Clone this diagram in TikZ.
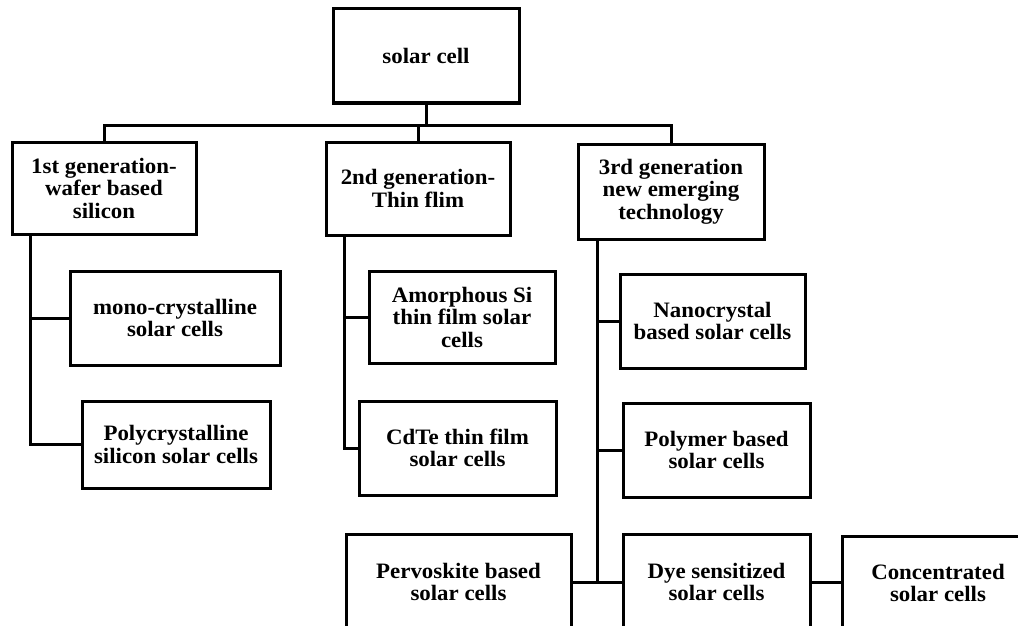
\documentclass[tikz,border=0pt]{standalone}
\usepackage{fontspec}
\setmainfont[FakeStretch=1.04]{Liberation Serif}
\usepackage{tikz}

\begin{document}
\begin{tikzpicture}[x=1pt,y=-1pt,
		box/.style={draw=black,line width=3pt,align=center,inner sep=0pt,
			font=\bfseries\fontsize{22}{22.5}\selectfont},
		link/.style={draw=black,line width=3pt}]
		\useasboundingbox (0,0) rectangle (1018,626);
		% top and generations
		\node [box,minimum width=186,minimum height=94] (cell) at (426,56) {solar cell};
		\node [box,minimum width=184,minimum height=92] (gen1) at (104,188) {1st generation-\\wafer based\\silicon};
		\node [box,minimum width=184,minimum height=93] (gen2) at (418,188.5) {2nd generation-\\Thin flim};
		\node [box,minimum width=186,minimum height=95] (gen3) at (671,191.5) {3rd generation\\new emerging\\technology};
		% first generation
		\node [box,minimum width=210,minimum height=94] (mono) at (175,318) {mono-crystalline\\solar cells};
		\node [box,minimum width=188,minimum height=87] (poly) at (176,444.5) {Polycrystalline\\silicon solar cells};
		% second generation
		\node [box,minimum width=186,minimum height=92] (amor) at (462,317) {Amorphous Si\\thin film solar\\cells};
		\node [box,minimum width=197,minimum height=94] (cdte) at (457.5,448) {CdTe thin film\\solar cells};
		% third generation
		\node [box,minimum width=185,minimum height=94] (nano) at (712.5,321) {Nanocrystal\\based solar cells};
		\node [box,minimum width=187,minimum height=94] (polym) at (716.5,450) {Polymer based\\solar cells};
		\node [box,minimum width=225,minimum height=96] (pervo) at (458.5,582) {Pervoskite based\\solar cells};
		\node [box,minimum width=187,minimum height=96] (dye) at (716.5,582) {Dye sensitized\\solar cells};
		\node [box,minimum width=192,minimum height=94] (conc) at (938,583) {Concentrated\\solar cells};
		% connectors
		\draw [link] (cell.south) -- ++(0,21) coordinate (bus);
		\draw [link] (bus) -| (gen1.north);
		\draw [link] (bus) -| (gen2.north);
		\draw [link] (bus) -| (gen3.north);
		\coordinate (t1) at (30,234);
		\coordinate (t2) at (344,235);
		\coordinate (t3) at (597,239);
		\draw [link] (t1) |- (poly.west);
		\draw [link] (t1 |- mono.west) -- (mono.west);
		\draw [link] (t2) |- (cdte.west);
		\draw [link] (t2 |- amor.west) -- (amor.west);
		\draw [link] (t3) -- (t3 |- dye.west);
		\draw [link] (t3 |- nano.west) -- (nano.west);
		\draw [link] (t3 |- polym.west) -- (polym.west);
		\draw [link] (pervo.east) -- (dye.west);
		\draw [link] (dye.east) -- (conc.west |- dye.east);
	\end{tikzpicture}
\end{document}
